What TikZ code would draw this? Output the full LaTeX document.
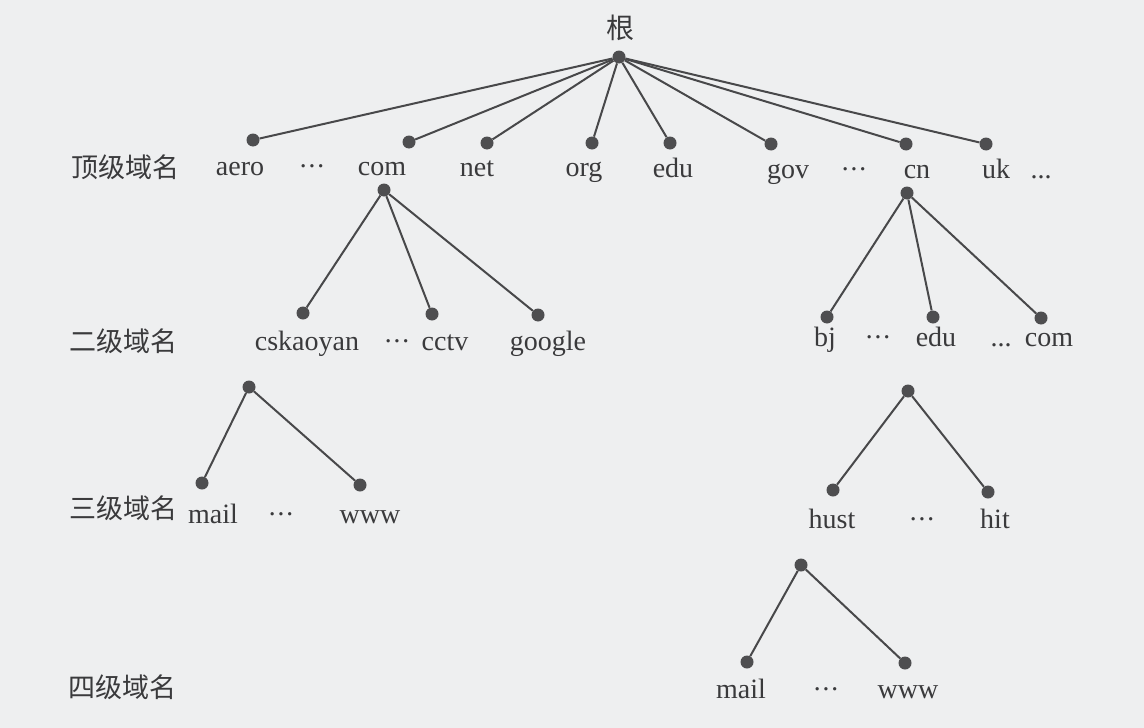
\documentclass[tikz,border=0pt]{standalone}
\usepackage{fontspec}
\setmainfont{Liberation Serif}
\newfontfamily\cjk{Noto Sans CJK SC}
\definecolor{bgc}{RGB}{238,239,240}
\definecolor{dotc}{RGB}{78,78,80}
\definecolor{linec}{RGB}{72,72,74}
\definecolor{txtc}{RGB}{58,58,60}
\newcommand{\mydots}{\textperiodcentered\kern-0.5pt\textperiodcentered\kern-0.5pt\textperiodcentered}
\tikzset{
  nd/.style={circle, fill=dotc, inner sep=0pt, minimum size=13pt},
  lbl/.style={anchor=base, inner sep=0pt, text=txtc, font=\fontsize{28}{30}\selectfont},
  zh/.style={anchor=center, inner sep=0pt, text=txtc, font=\cjk\fontsize{27}{30}\selectfont},
  conn/.style={line width=2pt, draw=linec}
}
\begin{document}
\begin{tikzpicture}[x=1pt,y=-1pt]
\fill[bgc] (0,0) rectangle (1144,728);
\useasboundingbox (0,0) rectangle (1144,728);

% root
\node[zh, font=\cjk\fontsize{28}{30}\selectfont] (tRoot) at (620,28) {根};
\node[nd] (r) at (619,57) {};

% level 1 dots
\node[nd] (d1aero) at (253,140) {};
\node[nd] (d1com)  at (409,142) {};
\node[nd] (d1net)  at (487,143) {};
\node[nd] (d1org)  at (592,143) {};
\node[nd] (d1edu)  at (670,143) {};
\node[nd] (d1gov)  at (771,144) {};
\node[nd] (d1cn)   at (906,144) {};
\node[nd] (d1uk)   at (986,144) {};
\foreach \n in {d1aero,d1com,d1net,d1org,d1edu,d1gov,d1cn,d1uk}
  \draw[conn] (r) -- (\n);

% level 1 labels
\node[zh] (zh1) at (125,167) {顶级域名};
\node[lbl] (l1aero) at (240,175) {aero};
\node[lbl] (l1dA)   at (312,175) {\mydots};
\node[lbl] (l1com)  at (382,175) {com};
\node[lbl] (l1net)  at (477,176) {net};
\node[lbl] (l1org)  at (584,176) {org};
\node[lbl] (l1edu)  at (673,177) {edu};
\node[lbl] (l1gov)  at (788,178) {gov};
\node[lbl] (l1dB)   at (854,178) {\mydots};
\node[lbl] (l1cn)   at (917,178) {cn};
\node[lbl] (l1uk)   at (996,178) {uk};
\node[lbl] (l1dC)   at (1041,178) {...};

% com subtree
\node[nd] (cb) at (384,190) {};
\node[nd] (d2cs) at (303,313) {};
\node[nd] (d2cc) at (432,314) {};
\node[nd] (d2go) at (538,315) {};
\draw[conn] (cb) -- (d2cs);
\draw[conn] (cb) -- (d2cc);
\draw[conn] (cb) -- (d2go);

% cn subtree
\node[nd] (nb) at (907,193) {};
\node[nd] (d2bj) at (827,317) {};
\node[nd] (d2ed) at (933,317) {};
\node[nd] (d2co) at (1041,318) {};
\draw[conn] (nb) -- (d2bj);
\draw[conn] (nb) -- (d2ed);
\draw[conn] (nb) -- (d2co);

% level 2 labels
\node[zh] (zh2) at (123,341) {二级域名};
\node[lbl] (l2cs) at (307,350) {cskaoyan};
\node[lbl] (l2dA) at (397,350) {\mydots};
\node[lbl] (l2cc) at (445,350) {cctv};
\node[lbl] (l2go) at (548,350) {google};
\node[lbl] (l2bj) at (825,346) {bj};
\node[lbl] (l2dB) at (878,346) {\mydots};
\node[lbl] (l2ed) at (936,346) {edu};
\node[lbl] (l2dC) at (1001,346) {...};
\node[lbl] (l2co) at (1049,346) {com};

% level 3 left
\node[nd] (p3) at (249,387) {};
\node[nd] (d3ma) at (202,483) {};
\node[nd] (d3ww) at (360,485) {};
\draw[conn] (p3) -- (d3ma);
\draw[conn] (p3) -- (d3ww);

% level 3 right
\node[nd] (q3) at (908,391) {};
\node[nd] (d3hu) at (833,490) {};
\node[nd] (d3hi) at (988,492) {};
\draw[conn] (q3) -- (d3hu);
\draw[conn] (q3) -- (d3hi);

% level 3 labels
\node[zh] (zh3) at (123,508) {三级域名};
\node[lbl] (l3ma) at (213,523) {mail};
\node[lbl] (l3dA) at (281,523) {\mydots};
\node[lbl] (l3ww) at (370,523) {www};
\node[lbl] (l3hu) at (832,528) {hust};
\node[lbl] (l3dB) at (922,528) {\mydots};
\node[lbl] (l3hi) at (995,528) {hit};

% level 4
\node[nd] (p4) at (801,565) {};
\node[nd] (d4ma) at (747,662) {};
\node[nd] (d4ww) at (905,663) {};
\draw[conn] (p4) -- (d4ma);
\draw[conn] (p4) -- (d4ww);

\node[zh] (zh4) at (122,687) {四级域名};
\node[lbl] (l4ma) at (741,698) {mail};
\node[lbl] (l4dA) at (826,698) {\mydots};
\node[lbl] (l4ww) at (908,698) {www};
\end{tikzpicture}
\end{document}
